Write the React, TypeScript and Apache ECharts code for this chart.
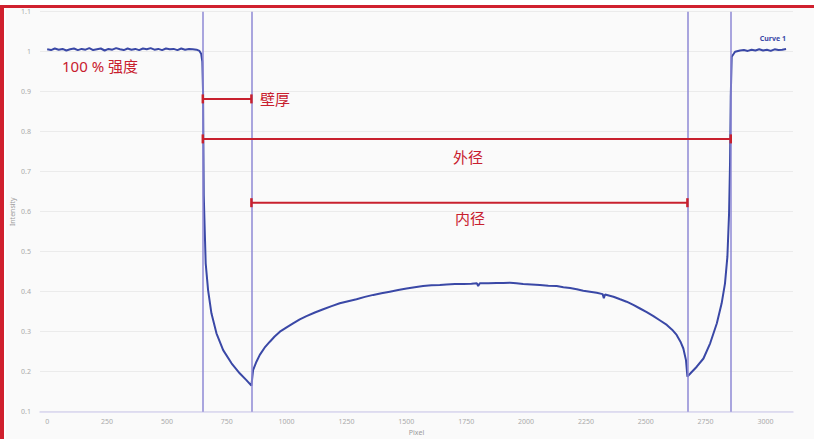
import React, { useEffect, useRef } from "react";
import * as echarts from "echarts";

// Profile data: [pixel, intensity]
const plateauLeft: number[][] = [
  [0, 1.006], [16, 1.004], [32, 1.008], [48, 1.005], [64, 1.007], [80, 1.003], [96, 1.006],
  [112, 1.008], [128, 1.004], [144, 1.007], [160, 1.005], [176, 1.009], [192, 1.004],
  [208, 1.006], [224, 1.008], [240, 1.003], [256, 1.007], [272, 1.005], [288, 1.009],
  [304, 1.006], [320, 1.004], [336, 1.008], [352, 1.005], [368, 1.007], [384, 1.004],
  [400, 1.008], [416, 1.006], [432, 1.009], [448, 1.005], [464, 1.007], [480, 1.004],
  [496, 1.008], [512, 1.006], [528, 1.007], [544, 1.004], [560, 1.008], [576, 1.005],
  [592, 1.007], [608, 1.006], [624, 1.005], [636, 1.002],
];
const wallLeft: number[][] = [
  [643, 0.995], [648, 0.975], [651, 0.9], [652, 0.8], [654, 0.64], [658, 0.554], [662, 0.471],
  [672, 0.404], [686, 0.346], [707, 0.296], [735, 0.254], [770, 0.221], [804, 0.196],
  [832, 0.179], [853, 0.165],
];
const bore: number[][] = [
  [860, 0.204], [874, 0.225], [888, 0.242], [908, 0.26], [930, 0.275], [950, 0.288],
  [972, 0.3], [1000, 0.311], [1027, 0.321], [1055, 0.331], [1083, 0.339], [1118, 0.348],
  [1153, 0.356], [1188, 0.364], [1222, 0.371], [1257, 0.376], [1292, 0.381], [1327, 0.387],
  [1362, 0.392], [1396, 0.396], [1431, 0.4], [1466, 0.404], [1501, 0.408], [1535, 0.411],
  [1570, 0.414], [1605, 0.416], [1640, 0.417], [1668, 0.418], [1703, 0.419], [1738, 0.419],
  [1772, 0.42], [1795, 0.421], [1800, 0.414], [1807, 0.421], [1842, 0.421], [1877, 0.422],
  [1905, 0.422], [1933, 0.4225], [1960, 0.421], [1988, 0.419], [2023, 0.418], [2058, 0.417],
  [2093, 0.415], [2128, 0.414], [2156, 0.411], [2184, 0.409], [2212, 0.406], [2239, 0.4025],
  [2267, 0.4], [2295, 0.3975], [2320, 0.394], [2325, 0.384], [2330, 0.393], [2365, 0.3875],
  [2393, 0.381], [2420, 0.375], [2448, 0.367], [2476, 0.358], [2504, 0.349], [2532, 0.339],
  [2560, 0.328], [2588, 0.317], [2610, 0.305], [2629, 0.292], [2645, 0.275], [2657, 0.258],
  [2668, 0.229], [2674, 0.1875],
];
const wallRight: number[][] = [
  [2690, 0.198], [2713, 0.2125], [2741, 0.233], [2769, 0.271], [2797, 0.321], [2817, 0.371],
  [2831, 0.421], [2841, 0.4875], [2848, 0.596], [2852, 0.721], [2855, 0.8875], [2859, 0.9875],
  [2873, 1.0], [2894, 1.003],
];
const plateauRight: number[][] = [
  [2910, 1.004], [2926, 1.002], [2942, 1.005], [2958, 1.003], [2974, 1.006], [2990, 1.003],
  [3006, 1.005], [3022, 1.002], [3038, 1.006], [3054, 1.004], [3070, 1.005], [3086, 1.007],
];

// Edge markers (pixel positions)
const edges: number[] = [650, 853, 2674, 2855];

// Measurement brackets
const wallBracket: number[][] = [[650, 0.882], [853, 0.882]];
const outerBracket: number[][] = [[650, 0.782], [2855, 0.782]];
const innerBracket: number[][] = [[853, 0.6225], [2674, 0.6225]];

const xTicks: number[] = [0, 250, 500, 750, 1000, 1250, 1500, 1750, 2000, 2250, 2500, 2750, 3000];

const CURVE = "#3a48a6";
const EDGE = "#8e88d4";
const RED = "#c8202e";
const FONT = "'Noto Sans', 'Noto Sans CJK SC', sans-serif";

export default function App() {
  const ref = useRef<HTMLDivElement>(null);
  useEffect(() => {
    document.body.style.margin = "0";
    const chart = echarts.init(ref.current!, null, { renderer: "svg" });
    const curve = [...plateauLeft, ...wallLeft, ...bore, ...wallRight, ...plateauRight];
    const bracket = (name: string, data: number[][]) => ({
      name,
      type: "line",
      data,
      symbol: "rect",
      symbolSize: [2.5, 9],
      showSymbol: true,
      itemStyle: { color: RED },
      lineStyle: { color: RED, width: 2 },
      silent: true,
      z: 5,
    });
    chart.setOption({
      animation: false,
      backgroundColor: "#fafafa",
      textStyle: { fontFamily: FONT },
      grid: { left: 40, right: 21, top: 11.7, bottom: 27.3, outerBoundsMode: "none", containLabel: false },
      legend: {
        data: ["Curve 1"],
        right: 28,
        top: 31,
        padding: 0,
        icon: "none",
        itemWidth: 0,
        itemGap: 0,
        textStyle: { color: CURVE, fontSize: 7, fontWeight: "bold", fontFamily: FONT },
      },
      xAxis: {
        type: "value",
        min: -30,
        max: 3115,
        name: "Pixel",
        nameLocation: "middle",
        nameGap: 17,
        nameMoveOverlap: false,
        nameTextStyle: { color: "#9a9a9a", fontSize: 7 },
        axisLine: { show: true, lineStyle: { color: "#d9d6ef", width: 1.5 } },
        axisTick: { show: false },
        splitLine: { show: false },
        axisLabel: {
          customValues: xTicks,
          color: "#aaaaaa",
          fontSize: 7,
          margin: 6,
          formatter: (v: number) => String(v),
        },
      },
      yAxis: {
        type: "value",
        min: 0.1,
        max: 1.1,
        interval: 0.1,
        name: "Intensity",
        nameLocation: "middle",
        nameGap: 24,
        nameMoveOverlap: false,
        nameTextStyle: { color: "#9a9a9a", fontSize: 7 },
        axisLine: { show: false },
        axisTick: { show: false },
        splitLine: { lineStyle: { color: "#ebebeb", width: 1 } },
        axisLabel: {
          color: "#aaaaaa",
          fontSize: 7,
          margin: 9,
          formatter: (v: number) => String(Math.round(v * 10) / 10),
        },
      },
      series: [
        {
          name: "Curve 1",
          type: "line",
          data: curve,
          showSymbol: false,
          lineStyle: { color: CURVE, width: 2 },
          itemStyle: { color: CURVE },
          z: 4,
          markLine: {
            silent: true,
            symbol: "none",
            label: { show: false },
            lineStyle: { color: EDGE, width: 1.5, type: "solid" },
            data: edges.map((e) => ({ xAxis: e })),
          },
        },
        bracket("wall", wallBracket),
        bracket("outer", outerBracket),
        bracket("inner", innerBracket),
      ],
      graphic: [
        { type: "rect", shape: { x: 0, y: 0, width: 814, height: 5 }, style: { fill: "#ffffff" } },
        { type: "rect", shape: { x: 0, y: 5, width: 814, height: 3 }, style: { fill: "#d0202e" } },
        { type: "rect", shape: { x: 0, y: 5, width: 4, height: 434 }, style: { fill: "#d0202e" } },
        { type: "rect", shape: { x: 4, y: 8, width: 2, height: 431 }, style: { fill: "#ffffff" } },
        {
          type: "text",
          x: 62,
          y: 66,
          style: { text: "100 % 强度", fill: RED, fontSize: 15, fontFamily: FONT, verticalAlign: "middle" },
        },
        {
          type: "text",
          x: 260,
          y: 99,
          style: { text: "壁厚", fill: RED, fontSize: 15, fontFamily: FONT, verticalAlign: "middle" },
        },
        {
          type: "text",
          x: 468,
          y: 157,
          style: { text: "外径", fill: RED, fontSize: 15, fontFamily: FONT, align: "center", verticalAlign: "middle" },
        },
        {
          type: "text",
          x: 470,
          y: 218,
          style: { text: "内径", fill: RED, fontSize: 15, fontFamily: FONT, align: "center", verticalAlign: "middle" },
        },
      ],
    });
    return () => chart.dispose();
  }, []);
  return <div ref={ref} style={{ width: 814, height: 439 }} />;
}
